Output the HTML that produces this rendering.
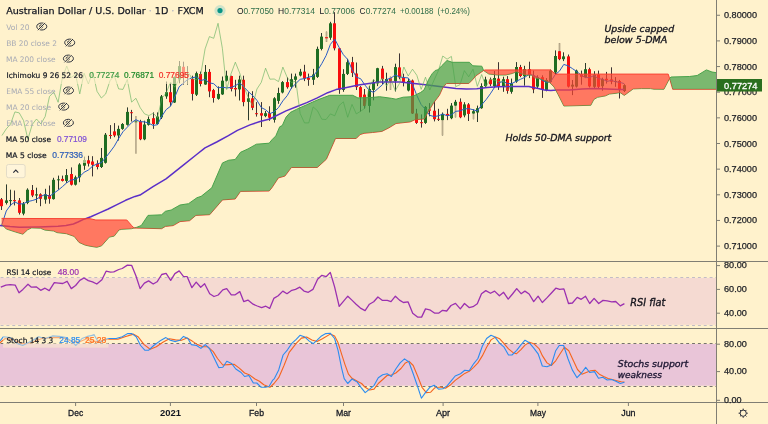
<!DOCTYPE html>
<html><head><meta charset="utf-8"><title>AUDUSD chart</title>
<style>html,body{margin:0;padding:0;background:#fff2cc;}svg{display:block;will-change:transform;}</style>
</head><body>
<svg width="768" height="424" viewBox="0 0 768 424">
<rect x="0" y="0" width="768" height="424" fill="#fff2cc"/>
<defs><clipPath id="cm"><rect x="0" y="0" width="716" height="261"/></clipPath><clipPath id="cr"><rect x="0" y="262" width="716" height="66"/></clipPath><clipPath id="cs"><rect x="0" y="329" width="716" height="73"/></clipPath></defs>
<g clip-path="url(#cm)">
<line x1="1.50" y1="198" x2="1.50" y2="210" stroke="#3d3434" stroke-width="1"/>
<rect x="0.00" y="199.3" width="3" height="6.90" fill="#f80d0d"/>
<line x1="6.50" y1="184.4" x2="6.50" y2="204.5" stroke="#2c3a2c" stroke-width="1"/>
<rect x="5.00" y="200.4" width="3" height="2.50" fill="#1f6d22"/>
<line x1="10.50" y1="189.7" x2="10.50" y2="206.2" stroke="#2c3a2c" stroke-width="1"/>
<rect x="9.00" y="200.1" width="3" height="1.00" fill="#1f6d22"/>
<line x1="14.50" y1="190.5" x2="14.50" y2="205.4" stroke="#3d3434" stroke-width="1"/>
<rect x="13.00" y="200.1" width="3" height="1.10" fill="#f80d0d"/>
<line x1="19.50" y1="198" x2="19.50" y2="214.5" stroke="#3d3434" stroke-width="1"/>
<rect x="18.00" y="200.4" width="3" height="12.40" fill="#f80d0d"/>
<line x1="23.50" y1="202" x2="23.50" y2="215.3" stroke="#2c3a2c" stroke-width="1"/>
<rect x="22.00" y="203.7" width="3" height="9.90" fill="#1f6d22"/>
<line x1="27.50" y1="188.3" x2="27.50" y2="204.2" stroke="#2c3a2c" stroke-width="1"/>
<rect x="26.00" y="189.7" width="3" height="13.20" fill="#1f6d22"/>
<line x1="32.50" y1="185" x2="32.50" y2="197.1" stroke="#3d3434" stroke-width="1"/>
<rect x="31.00" y="190" width="3" height="5.50" fill="#f80d0d"/>
<line x1="36.50" y1="187.7" x2="36.50" y2="202.9" stroke="#2c3a2c" stroke-width="1"/>
<rect x="35.00" y="194.3" width="3" height="1.20" fill="#1f6d22"/>
<line x1="40.50" y1="193.3" x2="40.50" y2="206.2" stroke="#3d3434" stroke-width="1"/>
<rect x="39.00" y="194.3" width="3" height="4.50" fill="#f80d0d"/>
<line x1="45.50" y1="188.8" x2="45.50" y2="203.7" stroke="#2c3a2c" stroke-width="1"/>
<rect x="44.00" y="194.3" width="3" height="5.30" fill="#1f6d22"/>
<line x1="49.50" y1="185.5" x2="49.50" y2="203.7" stroke="#3d3434" stroke-width="1"/>
<rect x="48.00" y="195" width="3" height="3.80" fill="#f80d0d"/>
<line x1="53.50" y1="177.8" x2="53.50" y2="199.6" stroke="#2c3a2c" stroke-width="1"/>
<rect x="52.00" y="179.8" width="3" height="19.30" fill="#1f6d22"/>
<line x1="58.50" y1="175.6" x2="58.50" y2="189.7" stroke="#2c3a2c" stroke-width="1"/>
<rect x="57.00" y="179.3" width="3" height="1.00" fill="#1f6d22"/>
<line x1="62.50" y1="175.6" x2="62.50" y2="181.5" stroke="#3d3434" stroke-width="1"/>
<rect x="61.00" y="178.9" width="3" height="2.00" fill="#f80d0d"/>
<line x1="66.50" y1="169" x2="66.50" y2="183" stroke="#2c3a2c" stroke-width="1"/>
<rect x="65.00" y="175.1" width="3" height="5.80" fill="#1f6d22"/>
<line x1="71.50" y1="167.4" x2="71.50" y2="185.5" stroke="#3d3434" stroke-width="1"/>
<rect x="70.00" y="174" width="3" height="10.70" fill="#f80d0d"/>
<line x1="75.50" y1="175.6" x2="75.50" y2="185.5" stroke="#2c3a2c" stroke-width="1"/>
<rect x="74.00" y="177.3" width="3" height="7.40" fill="#1f6d22"/>
<line x1="79.50" y1="163.2" x2="79.50" y2="182.2" stroke="#2c3a2c" stroke-width="1"/>
<rect x="78.00" y="164.5" width="3" height="12.80" fill="#1f6d22"/>
<line x1="84.50" y1="156.6" x2="84.50" y2="169.8" stroke="#2c3a2c" stroke-width="1"/>
<rect x="83.00" y="160" width="3" height="5.70" fill="#1f6d22"/>
<line x1="88.50" y1="155.8" x2="88.50" y2="166.5" stroke="#3d3434" stroke-width="1"/>
<rect x="87.00" y="160.3" width="3" height="3.30" fill="#f80d0d"/>
<line x1="92.50" y1="156.2" x2="92.50" y2="176.4" stroke="#3d3434" stroke-width="1"/>
<rect x="91.00" y="161.5" width="3" height="3.30" fill="#f80d0d"/>
<line x1="97.50" y1="160.3" x2="97.50" y2="169.4" stroke="#3d3434" stroke-width="1"/>
<rect x="96.00" y="163.6" width="3" height="3.40" fill="#f80d0d"/>
<line x1="101.50" y1="148" x2="101.50" y2="168" stroke="#2c3a2c" stroke-width="1"/>
<rect x="100.00" y="157.9" width="3" height="9.10" fill="#1f6d22"/>
<line x1="105.50" y1="133" x2="105.50" y2="163.6" stroke="#2c3a2c" stroke-width="1"/>
<rect x="104.00" y="134.7" width="3" height="28.10" fill="#1f6d22"/>
<line x1="110.50" y1="125.1" x2="110.50" y2="138.8" stroke="#3d3434" stroke-width="1"/>
<rect x="109.00" y="135" width="3" height="1.00" fill="#f80d0d"/>
<line x1="114.50" y1="123.1" x2="114.50" y2="137.2" stroke="#3d3434" stroke-width="1"/>
<rect x="113.00" y="131.4" width="3" height="4.10" fill="#f80d0d"/>
<line x1="118.50" y1="125.6" x2="118.50" y2="140.5" stroke="#2c3a2c" stroke-width="1"/>
<rect x="117.00" y="128.9" width="3" height="6.60" fill="#1f6d22"/>
<line x1="122.50" y1="123.1" x2="122.50" y2="129.8" stroke="#2c3a2c" stroke-width="1"/>
<rect x="121.00" y="124" width="3" height="4.90" fill="#1f6d22"/>
<line x1="127.50" y1="107.4" x2="127.50" y2="125.6" stroke="#2c3a2c" stroke-width="1"/>
<rect x="126.00" y="111.9" width="3" height="12.90" fill="#1f6d22"/>
<line x1="131.50" y1="109.9" x2="131.50" y2="121.5" stroke="#3d3434" stroke-width="1"/>
<rect x="130.00" y="112.2" width="3" height="1.00" fill="#f80d0d"/>
<line x1="135.93" y1="116" x2="135.93" y2="153.8" stroke="#b8ab8c" stroke-width="1.7"/>
<rect x="134.43" y="120.6" width="3" height="1.80" fill="#1f6d22" opacity="0.6"/>
<line x1="140.50" y1="119.8" x2="140.50" y2="140.2" stroke="#3d3434" stroke-width="1"/>
<rect x="139.00" y="121.5" width="3" height="17.80" fill="#f80d0d"/>
<line x1="144.50" y1="120.7" x2="144.50" y2="140.2" stroke="#2c3a2c" stroke-width="1"/>
<rect x="143.00" y="124.5" width="3" height="14.80" fill="#1f6d22"/>
<line x1="148.50" y1="116.5" x2="148.50" y2="125.6" stroke="#2c3a2c" stroke-width="1"/>
<rect x="147.00" y="119" width="3" height="5.80" fill="#1f6d22"/>
<line x1="153.50" y1="112.4" x2="153.50" y2="128.9" stroke="#3d3434" stroke-width="1"/>
<rect x="152.00" y="118.2" width="3" height="5.80" fill="#f80d0d"/>
<line x1="157.50" y1="112.4" x2="157.50" y2="124.8" stroke="#2c3a2c" stroke-width="1"/>
<rect x="156.00" y="116.5" width="3" height="7.50" fill="#1f6d22"/>
<line x1="161.50" y1="95" x2="161.50" y2="119" stroke="#2c3a2c" stroke-width="1"/>
<rect x="160.00" y="96.4" width="3" height="21.00" fill="#1f6d22"/>
<line x1="166.50" y1="81.5" x2="166.50" y2="98.8" stroke="#2c3a2c" stroke-width="1"/>
<rect x="165.00" y="92.2" width="3" height="4.20" fill="#1f6d22"/>
<line x1="170.50" y1="82.9" x2="170.50" y2="106.3" stroke="#3d3434" stroke-width="1"/>
<rect x="169.00" y="92.2" width="3" height="10.10" fill="#f80d0d"/>
<line x1="174.50" y1="76.5" x2="174.50" y2="103" stroke="#2c3a2c" stroke-width="1"/>
<rect x="173.00" y="77" width="3" height="25.50" fill="#1f6d22"/>
<line x1="179.50" y1="61" x2="179.50" y2="83.3" stroke="#2c3a2c" stroke-width="1"/>
<rect x="178.00" y="66.1" width="3" height="13.40" fill="#1f6d22"/>
<line x1="183.50" y1="61.7" x2="183.50" y2="84.6" stroke="#3d3434" stroke-width="1"/>
<rect x="182.00" y="66.8" width="3" height="10.80" fill="#f80d0d"/>
<line x1="187.50" y1="66.1" x2="187.50" y2="84.6" stroke="#2c3a2c" stroke-width="1"/>
<rect x="186.00" y="74" width="3" height="1.00" fill="#1f6d22"/>
<line x1="192.50" y1="75.7" x2="192.50" y2="100.5" stroke="#3d3434" stroke-width="1"/>
<rect x="191.00" y="79" width="3" height="14.90" fill="#f80d0d"/>
<line x1="196.50" y1="71.6" x2="196.50" y2="96" stroke="#2c3a2c" stroke-width="1"/>
<rect x="195.00" y="73.2" width="3" height="21.50" fill="#1f6d22"/>
<line x1="200.50" y1="71.6" x2="200.50" y2="86.4" stroke="#3d3434" stroke-width="1"/>
<rect x="199.00" y="74" width="3" height="10.00" fill="#f80d0d"/>
<line x1="205.50" y1="65" x2="205.50" y2="84.8" stroke="#2c3a2c" stroke-width="1"/>
<rect x="204.00" y="71.9" width="3" height="12.60" fill="#1f6d22"/>
<line x1="209.50" y1="69.1" x2="209.50" y2="97.2" stroke="#3d3434" stroke-width="1"/>
<rect x="208.00" y="71.9" width="3" height="19.50" fill="#f80d0d"/>
<line x1="213.50" y1="88.9" x2="213.50" y2="102.6" stroke="#3d3434" stroke-width="1"/>
<rect x="212.00" y="90.1" width="3" height="7.90" fill="#f80d0d"/>
<line x1="218.50" y1="86.4" x2="218.50" y2="99.7" stroke="#2c3a2c" stroke-width="1"/>
<rect x="217.00" y="93.9" width="3" height="4.90" fill="#1f6d22"/>
<line x1="222.50" y1="76.5" x2="222.50" y2="94.9" stroke="#2c3a2c" stroke-width="1"/>
<rect x="221.00" y="80.7" width="3" height="13.70" fill="#1f6d22"/>
<line x1="226.50" y1="70.7" x2="226.50" y2="81.5" stroke="#2c3a2c" stroke-width="1"/>
<rect x="225.00" y="75.7" width="3" height="5.00" fill="#1f6d22"/>
<line x1="231.50" y1="75.7" x2="231.50" y2="91.4" stroke="#3d3434" stroke-width="1"/>
<rect x="230.00" y="76" width="3" height="12.90" fill="#f80d0d"/>
<line x1="235.50" y1="79.8" x2="235.50" y2="96.4" stroke="#3d3434" stroke-width="1"/>
<rect x="234.00" y="88" width="3" height="1.40" fill="#f80d0d"/>
<line x1="239.50" y1="75.7" x2="239.50" y2="100.5" stroke="#2c3a2c" stroke-width="1"/>
<rect x="238.00" y="79.5" width="3" height="9.90" fill="#1f6d22"/>
<line x1="243.50" y1="75.7" x2="243.50" y2="106.3" stroke="#3d3434" stroke-width="1"/>
<rect x="242.00" y="79.8" width="3" height="22.30" fill="#f80d0d"/>
<line x1="248.50" y1="92.2" x2="248.50" y2="120.3" stroke="#2c3a2c" stroke-width="1"/>
<rect x="247.00" y="98.3" width="3" height="3.50" fill="#1f6d22"/>
<line x1="252.50" y1="91.2" x2="252.50" y2="110.1" stroke="#3d3434" stroke-width="1"/>
<rect x="251.00" y="98.3" width="3" height="9.50" fill="#f80d0d"/>
<line x1="256.50" y1="102.1" x2="256.50" y2="116.6" stroke="#3d3434" stroke-width="1"/>
<rect x="255.00" y="113.2" width="3" height="1.00" fill="#f80d0d"/>
<line x1="261.50" y1="102.1" x2="261.50" y2="127" stroke="#3d3434" stroke-width="1"/>
<rect x="260.00" y="113.2" width="3" height="2.40" fill="#f80d0d"/>
<line x1="265.50" y1="111" x2="265.50" y2="117.2" stroke="#2c3a2c" stroke-width="1"/>
<rect x="264.00" y="113.2" width="3" height="2.90" fill="#1f6d22"/>
<line x1="269.50" y1="106.3" x2="269.50" y2="120.8" stroke="#3d3434" stroke-width="1"/>
<rect x="268.00" y="113.2" width="3" height="4.50" fill="#f80d0d"/>
<line x1="274.50" y1="97.2" x2="274.50" y2="122.6" stroke="#2c3a2c" stroke-width="1"/>
<rect x="273.00" y="98.3" width="3" height="21.50" fill="#1f6d22"/>
<line x1="278.50" y1="87.7" x2="278.50" y2="103.8" stroke="#2c3a2c" stroke-width="1"/>
<rect x="277.00" y="93" width="3" height="7.90" fill="#1f6d22"/>
<line x1="282.50" y1="81.1" x2="282.50" y2="93.4" stroke="#2c3a2c" stroke-width="1"/>
<rect x="281.00" y="82.1" width="3" height="10.40" fill="#1f6d22"/>
<line x1="287.50" y1="77.4" x2="287.50" y2="88.7" stroke="#3d3434" stroke-width="1"/>
<rect x="286.00" y="82.1" width="3" height="5.10" fill="#f80d0d"/>
<line x1="291.50" y1="73.6" x2="291.50" y2="88.7" stroke="#2c3a2c" stroke-width="1"/>
<rect x="290.00" y="79.2" width="3" height="7.60" fill="#1f6d22"/>
<line x1="295.50" y1="73.6" x2="295.50" y2="87.7" stroke="#2c3a2c" stroke-width="1"/>
<rect x="294.00" y="76.4" width="3" height="3.40" fill="#1f6d22"/>
<line x1="300.50" y1="68.9" x2="300.50" y2="76.4" stroke="#2c3a2c" stroke-width="1"/>
<rect x="299.00" y="71.7" width="3" height="3.80" fill="#1f6d22"/>
<line x1="304.50" y1="64.8" x2="304.50" y2="81.1" stroke="#3d3434" stroke-width="1"/>
<rect x="303.00" y="71.6" width="3" height="7.00" fill="#f80d0d"/>
<line x1="308.50" y1="73.6" x2="308.50" y2="85.8" stroke="#3d3434" stroke-width="1"/>
<rect x="307.00" y="77.9" width="3" height="1.90" fill="#f80d0d"/>
<line x1="313.50" y1="68.9" x2="313.50" y2="84.9" stroke="#2c3a2c" stroke-width="1"/>
<rect x="312.00" y="74.5" width="3" height="5.30" fill="#1f6d22"/>
<line x1="317.50" y1="46.6" x2="317.50" y2="77.9" stroke="#2c3a2c" stroke-width="1"/>
<rect x="316.00" y="48.9" width="3" height="28.00" fill="#1f6d22"/>
<line x1="321.50" y1="33" x2="321.50" y2="50.4" stroke="#2c3a2c" stroke-width="1"/>
<rect x="320.00" y="36.6" width="3" height="12.30" fill="#1f6d22"/>
<line x1="326.50" y1="31.7" x2="326.50" y2="41.9" stroke="#3d3434" stroke-width="1"/>
<line x1="326.50" y1="31.7" x2="326.50" y2="41.9" stroke="#b8ab8c" stroke-width="1.8"/>
<rect x="325.00" y="37.2" width="3" height="1.10" fill="#f80d0d"/>
<line x1="330.50" y1="21.8" x2="330.50" y2="39.8" stroke="#2c3a2c" stroke-width="1"/>
<rect x="329.00" y="23.3" width="3" height="14.40" fill="#1f6d22"/>
<line x1="334.50" y1="12.2" x2="334.50" y2="50.4" stroke="#3d3434" stroke-width="1"/>
<rect x="333.00" y="23.3" width="3" height="25.00" fill="#f80d0d"/>
<line x1="339.50" y1="48" x2="339.50" y2="93.8" stroke="#3d3434" stroke-width="1"/>
<rect x="338.00" y="48.3" width="3" height="41.30" fill="#f80d0d"/>
<line x1="343.50" y1="69.2" x2="343.50" y2="91.8" stroke="#2c3a2c" stroke-width="1"/>
<rect x="342.00" y="73.9" width="3" height="16.00" fill="#1f6d22"/>
<line x1="347.50" y1="58.8" x2="347.50" y2="75" stroke="#2c3a2c" stroke-width="1"/>
<rect x="346.00" y="62.2" width="3" height="11.70" fill="#1f6d22"/>
<line x1="352.50" y1="56.9" x2="352.50" y2="77" stroke="#3d3434" stroke-width="1"/>
<rect x="351.00" y="62.2" width="3" height="10.70" fill="#f80d0d"/>
<line x1="356.50" y1="62.5" x2="356.50" y2="90" stroke="#3d3434" stroke-width="1"/>
<rect x="355.00" y="73.5" width="3" height="13.60" fill="#f80d0d"/>
<line x1="360.50" y1="86.1" x2="360.50" y2="111.6" stroke="#3d3434" stroke-width="1"/>
<rect x="359.00" y="87.1" width="3" height="10.40" fill="#f80d0d"/>
<line x1="364.50" y1="89" x2="364.50" y2="108.8" stroke="#3d3434" stroke-width="1"/>
<rect x="363.00" y="94.6" width="3" height="11.30" fill="#f80d0d"/>
<line x1="369.50" y1="86.1" x2="369.50" y2="112.5" stroke="#2c3a2c" stroke-width="1"/>
<rect x="368.00" y="89" width="3" height="16.90" fill="#1f6d22"/>
<line x1="373.50" y1="79.5" x2="373.50" y2="100.3" stroke="#2c3a2c" stroke-width="1"/>
<rect x="372.00" y="82.4" width="3" height="7.50" fill="#1f6d22"/>
<line x1="377.50" y1="67.8" x2="377.50" y2="86.1" stroke="#2c3a2c" stroke-width="1"/>
<rect x="376.00" y="68.2" width="3" height="15.10" fill="#1f6d22"/>
<line x1="382.50" y1="65.9" x2="382.50" y2="84.2" stroke="#3d3434" stroke-width="1"/>
<rect x="381.00" y="68.6" width="3" height="10.60" fill="#f80d0d"/>
<line x1="386.50" y1="72.7" x2="386.50" y2="90.7" stroke="#2c3a2c" stroke-width="1"/>
<rect x="385.00" y="79" width="3" height="2.50" fill="#1f6d22"/>
<line x1="390.50" y1="76.7" x2="390.50" y2="89.9" stroke="#3d3434" stroke-width="1"/>
<line x1="390.50" y1="76.7" x2="390.50" y2="89.9" stroke="#b8ab8c" stroke-width="1.8"/>
<rect x="389.00" y="78.4" width="3" height="3.20" fill="#f80d0d"/>
<line x1="395.50" y1="63.7" x2="395.50" y2="91.5" stroke="#2c3a2c" stroke-width="1"/>
<rect x="394.00" y="67.1" width="3" height="14.10" fill="#1f6d22"/>
<line x1="399.50" y1="53.4" x2="399.50" y2="79.3" stroke="#3d3434" stroke-width="1"/>
<rect x="398.00" y="67.4" width="3" height="10.00" fill="#f80d0d"/>
<line x1="403.50" y1="73.7" x2="403.50" y2="86.4" stroke="#3d3434" stroke-width="1"/>
<rect x="402.00" y="77.4" width="3" height="5.20" fill="#f80d0d"/>
<line x1="408.50" y1="79" x2="408.50" y2="91.4" stroke="#2c3a2c" stroke-width="1"/>
<rect x="407.00" y="81" width="3" height="9.50" fill="#1f6d22"/>
<line x1="412.50" y1="79.5" x2="412.50" y2="114" stroke="#3d3434" stroke-width="1"/>
<rect x="411.00" y="80.5" width="3" height="33.00" fill="#f80d0d"/>
<line x1="416.50" y1="108.8" x2="416.50" y2="123.9" stroke="#3d3434" stroke-width="1"/>
<rect x="415.00" y="113.5" width="3" height="9.40" fill="#f80d0d"/>
<line x1="421.50" y1="114.4" x2="421.50" y2="127.6" stroke="#3d3434" stroke-width="1"/>
<rect x="420.00" y="122.2" width="3" height="1.00" fill="#f80d0d"/>
<line x1="425.50" y1="106" x2="425.50" y2="123.9" stroke="#2c3a2c" stroke-width="1"/>
<rect x="424.00" y="106.9" width="3" height="16.00" fill="#1f6d22"/>
<line x1="429.50" y1="103.1" x2="429.50" y2="116.3" stroke="#3d3434" stroke-width="1"/>
<rect x="428.00" y="109.3" width="3" height="1.40" fill="#f80d0d"/>
<line x1="434.50" y1="101.2" x2="434.50" y2="121.4" stroke="#3d3434" stroke-width="1"/>
<rect x="433.00" y="110.7" width="3" height="8.50" fill="#f80d0d"/>
<line x1="438.50" y1="108.8" x2="438.50" y2="121" stroke="#3d3434" stroke-width="1"/>
<rect x="437.00" y="118.8" width="3" height="1.00" fill="#f80d0d"/>
<line x1="442.50" y1="112.5" x2="442.50" y2="135.4" stroke="#2c3a2c" stroke-width="1"/>
<line x1="442.50" y1="120.1" x2="442.50" y2="135.4" stroke="#b8ab8c" stroke-width="1.8"/>
<rect x="441.00" y="113.9" width="3" height="6.20" fill="#1f6d22"/>
<line x1="447.50" y1="108.8" x2="447.50" y2="120.1" stroke="#3d3434" stroke-width="1"/>
<rect x="446.00" y="113.9" width="3" height="1.90" fill="#f80d0d"/>
<line x1="451.50" y1="103.1" x2="451.50" y2="119.2" stroke="#2c3a2c" stroke-width="1"/>
<rect x="450.00" y="105.6" width="3" height="12.60" fill="#1f6d22"/>
<line x1="455.50" y1="99.9" x2="455.50" y2="117.3" stroke="#2c3a2c" stroke-width="1"/>
<line x1="455.50" y1="105.6" x2="455.50" y2="117.3" stroke="#b8ab8c" stroke-width="1.8"/>
<rect x="454.00" y="101.8" width="3" height="3.80" fill="#1f6d22"/>
<line x1="460.50" y1="98.4" x2="460.50" y2="118.2" stroke="#3d3434" stroke-width="1"/>
<rect x="459.00" y="101.8" width="3" height="15.50" fill="#f80d0d"/>
<line x1="464.50" y1="102.2" x2="464.50" y2="117.3" stroke="#2c3a2c" stroke-width="1"/>
<rect x="463.00" y="104.4" width="3" height="11.00" fill="#1f6d22"/>
<line x1="468.50" y1="103.1" x2="468.50" y2="121" stroke="#3d3434" stroke-width="1"/>
<rect x="467.00" y="104.4" width="3" height="9.50" fill="#f80d0d"/>
<line x1="473.50" y1="109.3" x2="473.50" y2="119.2" stroke="#2c3a2c" stroke-width="1"/>
<line x1="473.50" y1="113.5" x2="473.50" y2="119.2" stroke="#b8ab8c" stroke-width="1.8"/>
<rect x="472.00" y="111.2" width="3" height="2.30" fill="#1f6d22"/>
<line x1="477.50" y1="105.6" x2="477.50" y2="122" stroke="#2c3a2c" stroke-width="1"/>
<rect x="476.00" y="108.2" width="3" height="4.30" fill="#1f6d22"/>
<line x1="481.50" y1="83.3" x2="481.50" y2="108.8" stroke="#2c3a2c" stroke-width="1"/>
<rect x="480.00" y="86.1" width="3" height="22.10" fill="#1f6d22"/>
<line x1="485.50" y1="76.7" x2="485.50" y2="87.1" stroke="#2c3a2c" stroke-width="1"/>
<rect x="484.00" y="79.5" width="3" height="6.60" fill="#1f6d22"/>
<line x1="490.50" y1="77.6" x2="490.50" y2="86.1" stroke="#3d3434" stroke-width="1"/>
<rect x="489.00" y="79.5" width="3" height="4.70" fill="#f80d0d"/>
<line x1="494.50" y1="71" x2="494.50" y2="88" stroke="#2c3a2c" stroke-width="1"/>
<rect x="493.00" y="78" width="3" height="8.10" fill="#1f6d22"/>
<line x1="498.50" y1="62.2" x2="498.50" y2="89.9" stroke="#3d3434" stroke-width="1"/>
<rect x="497.00" y="78.6" width="3" height="7.50" fill="#f80d0d"/>
<line x1="503.50" y1="76.7" x2="503.50" y2="91.8" stroke="#2c3a2c" stroke-width="1"/>
<rect x="502.00" y="79.2" width="3" height="7.90" fill="#1f6d22"/>
<line x1="507.50" y1="76.1" x2="507.50" y2="93.7" stroke="#3d3434" stroke-width="1"/>
<rect x="506.00" y="79.2" width="3" height="11.60" fill="#f80d0d"/>
<line x1="511.50" y1="78.6" x2="511.50" y2="93.7" stroke="#2c3a2c" stroke-width="1"/>
<rect x="510.00" y="83.3" width="3" height="8.50" fill="#1f6d22"/>
<line x1="516.50" y1="62.1" x2="516.50" y2="82.8" stroke="#2c3a2c" stroke-width="1"/>
<rect x="515.00" y="67" width="3" height="14.60" fill="#1f6d22"/>
<line x1="520.50" y1="64.9" x2="520.50" y2="77.2" stroke="#3d3434" stroke-width="1"/>
<rect x="519.00" y="67" width="3" height="9.00" fill="#f80d0d"/>
<line x1="524.50" y1="65.8" x2="524.50" y2="85.7" stroke="#2c3a2c" stroke-width="1"/>
<rect x="523.00" y="69.2" width="3" height="7.00" fill="#1f6d22"/>
<line x1="529.50" y1="61.7" x2="529.50" y2="78.1" stroke="#3d3434" stroke-width="1"/>
<rect x="528.00" y="69.2" width="3" height="6.10" fill="#f80d0d"/>
<line x1="533.50" y1="70.6" x2="533.50" y2="93.2" stroke="#3d3434" stroke-width="1"/>
<rect x="532.00" y="75.3" width="3" height="14.10" fill="#f80d0d"/>
<line x1="537.50" y1="75.3" x2="537.50" y2="88.5" stroke="#2c3a2c" stroke-width="1"/>
<rect x="536.00" y="77.2" width="3" height="9.40" fill="#1f6d22"/>
<line x1="542.50" y1="75.3" x2="542.50" y2="97.9" stroke="#3d3434" stroke-width="1"/>
<rect x="541.00" y="77.2" width="3" height="12.80" fill="#f80d0d"/>
<line x1="546.50" y1="78.1" x2="546.50" y2="91.3" stroke="#2c3a2c" stroke-width="1"/>
<rect x="545.00" y="80" width="3" height="10.40" fill="#1f6d22"/>
<line x1="550.50" y1="69.6" x2="550.50" y2="82.8" stroke="#2c3a2c" stroke-width="1"/>
<rect x="549.00" y="70.6" width="3" height="11.30" fill="#1f6d22"/>
<line x1="555.50" y1="50.4" x2="555.50" y2="74.3" stroke="#2c3a2c" stroke-width="1"/>
<rect x="554.00" y="56" width="3" height="16.50" fill="#1f6d22"/>
<line x1="559.50" y1="43.1" x2="559.50" y2="60.2" stroke="#3d3434" stroke-width="1"/>
<line x1="559.50" y1="43.1" x2="559.50" y2="51.2" stroke="#b8ab8c" stroke-width="1.8"/>
<rect x="558.00" y="51.2" width="3" height="8.00" fill="#f80d0d"/>
<line x1="563.50" y1="52.3" x2="563.50" y2="61.1" stroke="#2c3a2c" stroke-width="1"/>
<rect x="562.00" y="56.4" width="3" height="2.80" fill="#1f6d22"/>
<line x1="568.50" y1="54.5" x2="568.50" y2="87.5" stroke="#3d3434" stroke-width="1"/>
<rect x="567.00" y="56.4" width="3" height="30.20" fill="#f80d0d"/>
<line x1="572.50" y1="80" x2="572.50" y2="95.1" stroke="#2c3a2c" stroke-width="1"/>
<rect x="571.00" y="84.7" width="3" height="1.90" fill="#1f6d22"/>
<line x1="576.50" y1="69.6" x2="576.50" y2="87.5" stroke="#2c3a2c" stroke-width="1"/>
<rect x="575.00" y="70.6" width="3" height="16.00" fill="#1f6d22"/>
<line x1="581.50" y1="70.6" x2="581.50" y2="84.7" stroke="#3d3434" stroke-width="1"/>
<rect x="580.00" y="74.3" width="3" height="2.50" fill="#f80d0d"/>
<line x1="585.50" y1="63" x2="585.50" y2="78.1" stroke="#2c3a2c" stroke-width="1"/>
<rect x="584.00" y="69.2" width="3" height="8.00" fill="#1f6d22"/>
<line x1="589.50" y1="67.7" x2="589.50" y2="87.5" stroke="#3d3434" stroke-width="1"/>
<rect x="588.00" y="69.2" width="3" height="17.20" fill="#f80d0d"/>
<line x1="594.50" y1="71.2" x2="594.50" y2="88.1" stroke="#2c3a2c" stroke-width="1"/>
<rect x="593.00" y="74.5" width="3" height="12.30" fill="#1f6d22"/>
<line x1="598.50" y1="70.6" x2="598.50" y2="88.1" stroke="#3d3434" stroke-width="1"/>
<rect x="597.00" y="74.5" width="3" height="12.30" fill="#f80d0d"/>
<line x1="602.50" y1="77.7" x2="602.50" y2="90.7" stroke="#2c3a2c" stroke-width="1"/>
<rect x="601.00" y="79" width="3" height="7.20" fill="#1f6d22"/>
<line x1="606.50" y1="71.9" x2="606.50" y2="83.6" stroke="#3d3434" stroke-width="1"/>
<rect x="605.00" y="78.8" width="3" height="1.50" fill="#f80d0d"/>
<line x1="611.50" y1="67.3" x2="611.50" y2="84.2" stroke="#3d3434" stroke-width="1"/>
<rect x="610.00" y="79.4" width="3" height="2.20" fill="#f80d0d"/>
<line x1="615.50" y1="77.1" x2="615.50" y2="86.8" stroke="#2c3a2c" stroke-width="1"/>
<rect x="614.00" y="81" width="3" height="1.00" fill="#1f6d22"/>
<line x1="619.50" y1="79.9" x2="619.50" y2="98.5" stroke="#3d3434" stroke-width="1"/>
<rect x="618.00" y="81" width="3" height="9.10" fill="#f80d0d"/>
<line x1="624.50" y1="84.2" x2="624.50" y2="92" stroke="#2c3a2c" stroke-width="1"/>
<rect x="623.00" y="85.2" width="3" height="5.80" fill="#1f6d22"/>
<polyline points="1.96,224.40 6.28,210.98 10.60,205.00 14.92,201.98 19.25,204.14 23.57,203.64 27.89,201.50 32.21,200.58 36.53,199.20 40.85,196.40 45.18,194.52 49.50,196.34 53.82,193.20 58.14,190.20 62.46,186.62 66.78,182.78 71.11,179.96 75.43,179.46 79.75,176.50 84.07,172.32 88.39,170.02 92.71,166.04 97.04,163.98 101.36,162.66 105.68,157.60 110.00,152.02 114.32,146.16 118.64,138.54 122.96,131.76 127.29,127.20 131.61,122.64 135.93,119.66 140.25,121.74 144.57,121.84 148.89,123.26 153.22,125.48 157.54,124.66 161.86,116.08 166.18,109.62 170.50,106.28 174.82,96.88 179.15,86.80 183.47,83.04 187.79,79.40 192.11,77.72 196.43,76.96 200.75,80.54 205.08,79.40 209.40,82.88 213.72,83.70 218.04,87.84 222.36,87.18 226.68,87.94 231.00,87.44 235.33,85.72 239.65,82.84 243.97,87.12 248.29,91.64 252.61,95.42 256.93,100.32 261.26,107.54 265.58,109.76 269.90,113.64 274.22,111.74 278.54,107.56 282.86,100.86 287.19,95.66 291.51,87.96 295.83,83.58 300.15,79.32 304.47,78.62 308.79,77.14 313.12,76.20 317.44,70.70 321.76,63.68 326.08,55.62 330.40,44.32 334.72,39.08 339.04,47.22 343.37,54.68 347.69,59.46 352.01,69.38 356.33,77.14 360.65,78.72 364.97,85.12 369.30,90.48 373.62,92.38 377.94,88.60 382.26,84.94 386.58,79.56 390.90,78.08 395.23,75.02 399.55,76.86 403.87,77.54 408.19,77.94 412.51,84.32 416.83,95.48 421.16,104.58 425.48,109.44 429.80,115.38 434.12,116.52 438.44,115.84 442.76,114.04 447.08,115.82 451.41,114.80 455.73,111.32 460.05,110.88 464.37,108.98 468.69,108.60 473.01,109.72 477.34,111.00 481.66,104.76 485.98,99.78 490.30,93.84 494.62,87.20 498.94,82.78 503.27,81.40 507.59,83.66 511.91,83.48 516.23,81.28 520.55,79.26 524.87,77.26 529.20,74.16 533.52,75.38 537.84,77.42 542.16,80.22 546.48,82.38 550.80,81.44 555.12,74.76 559.45,71.16 563.77,64.44 568.09,65.76 572.41,68.58 576.73,71.50 581.05,75.02 585.38,77.58 589.70,77.54 594.02,75.50 598.34,78.74 602.66,79.18 606.98,81.40 611.31,80.44 615.63,81.74 619.95,82.40 624.27,83.64" fill="none" stroke="#2a5cc4" stroke-width="1.0" stroke-linejoin="round"/>
<polyline points="0.00,225.40 10.00,226.60 19.30,227.30 38.60,226.90 58.00,226.30 66.00,225.60 73.40,224.00 78.00,222.00 83.00,219.60 90.80,216.70 99.50,212.90 108.20,209.00 117.00,204.60 125.60,200.30 135.00,196.40 140.00,195.10 153.00,186.70 166.00,178.90 172.00,174.20 183.00,165.40 196.00,155.00 205.00,147.90 216.70,142.00 228.40,135.60 237.40,130.40 250.00,124.90 260.00,121.50 269.70,119.00 286.00,110.90 296.40,106.75 306.80,102.60 317.30,97.90 327.70,92.70 336.00,89.60 344.30,88.00 358.50,85.00 379.30,82.10 400.20,81.90 421.00,84.20 441.80,86.70 456.00,88.40 466.40,89.00 476.80,88.70 487.25,87.50 497.70,86.70 508.10,86.40 518.50,86.40 528.90,86.50 532.00,87.20 538.25,88.60 544.50,89.90 550.75,90.50 557.00,90.10 569.50,89.90 582.00,89.00 594.50,88.60 607.00,89.00 619.50,89.50 624.50,89.50" fill="none" stroke="#5a2fc8" stroke-width="1.5" stroke-linejoin="round"/>
<polyline points="1.96,135.50 6.28,128.90 10.60,124.00 14.92,111.90 19.25,112.90 23.57,120.60 27.89,139.30 32.21,124.50 36.53,119.00 40.85,124.00 45.18,116.50 49.50,96.40 53.82,92.20 58.14,102.30 62.46,77.00 66.78,66.10 71.11,77.60 75.43,74.00 79.75,93.90 84.07,73.20 88.39,84.00 92.71,71.90 97.04,91.40 101.36,98.00 105.68,93.90 110.00,80.70 114.32,75.70 118.64,88.90 122.96,89.40 127.29,79.50 131.61,102.10 135.93,98.30 140.25,107.80 144.57,113.90 148.89,115.60 153.22,113.20 157.54,117.70 161.86,98.30 166.18,93.00 170.50,82.10 174.82,87.20 179.15,79.20 183.47,76.40 187.79,71.70 192.11,78.60 196.43,79.80 200.75,74.50 205.08,48.90 209.40,36.60 213.72,38.30 218.04,23.30 222.36,48.30 226.68,89.60 231.00,73.90 235.33,62.20 239.65,72.90 243.97,87.10 248.29,97.50 252.61,105.90 256.93,89.00 261.26,82.40 265.58,68.20 269.90,79.20 274.22,79.00 278.54,81.60 282.86,67.10 287.19,77.40 291.51,82.60 295.83,81.00 300.15,113.50 304.47,122.90 308.79,122.90 313.12,106.90 317.44,110.70 321.76,119.20 326.08,119.50 330.40,113.90 334.72,115.80 339.04,105.60 343.37,101.80 347.69,117.30 352.01,104.40 356.33,113.90 360.65,111.20 364.97,108.20 369.30,86.10 373.62,79.50 377.94,84.20 382.26,78.00 386.58,86.10 390.90,79.20 395.23,90.80 399.55,83.30 403.87,67.00 408.19,76.00 412.51,69.20 416.83,75.30 421.16,89.40 425.48,77.20 429.80,90.00 434.12,80.00 438.44,70.60 442.76,56.00 447.08,59.20 451.41,56.40 455.73,86.60 460.05,84.70 464.37,70.60 468.69,76.80 473.01,69.20 477.34,86.40 481.66,74.50 485.98,86.80 490.30,79.00 494.62,80.30 498.94,81.60 503.27,81.00 507.59,90.10 511.91,85.20" fill="none" stroke="#5fae5a" stroke-width="0.9" opacity="0.68" stroke-linejoin="round"/>
<polyline points="1.60,224.20 6.30,229.00 15.80,232.10 22.90,234.20 27.60,229.80 31.60,227.90 40.30,228.20 45.00,230.10 53.70,231.00 56.90,232.60 66.40,233.70 74.20,236.40 79.00,242.40 85.30,245.20 90.00,246.20 96.80,247.30 101.60,245.80 109.30,237.10 114.20,236.10 119.00,229.90 121.90,229.30 131.60,228.70 134.10,228.00" fill="none" stroke="#43a047" stroke-width="1" opacity="0.95"/>
<polyline points="134.10,228.00 136.40,227.40 141.30,225.50 148.00,215.40 161.60,214.80 165.40,211.30 171.20,210.00 180.00,205.00 188.50,203.70 197.00,197.70 201.20,196.30 211.80,187.80 215.00,180.30 222.50,162.90 228.80,160.20 235.20,159.50 240.50,152.30 248.00,148.90 256.40,144.20 269.20,143.20 271.90,139.80 275.80,135.90 279.70,126.80 282.30,125.50 286.00,117.20 290.20,112.50 296.40,109.40 306.80,104.70 317.30,100.00 329.75,95.30 352.70,95.30 357.90,97.90 370.20,97.60 379.60,96.70 391.40,98.30 396.00,99.20 403.20,97.20 410.20,96.80 414.90,95.30 420.50,92.50 424.00,90.00 428.70,79.40 432.30,73.50 435.20,70.50 438.20,69.70 441.70,65.80 447.00,60.50 452.30,62.30 469.40,62.30 472.90,65.80 481.80,66.20 483.60,70.50" fill="none" stroke="#43a047" stroke-width="1" opacity="0.95"/>
<polyline points="483.60,70.50 488.80,74.00 497.30,75.00 505.80,75.00 512.20,73.50 516.40,71.80 524.90,75.00 531.30,75.00 534.20,77.70 541.20,79.10 549.70,82.60 554.00,86.90 558.20,94.70 563.90,106.00 590.80,105.30 593.80,99.50 597.50,97.30 605.30,95.90 609.50,94.00 616.00,93.30 620.00,92.50 624.30,95.40 633.20,88.90 641.20,88.60 650.50,88.60 654.00,89.20 663.90,89.30 669.60,78.40" fill="none" stroke="#43a047" stroke-width="1" opacity="0.95"/>
<polyline points="669.60,78.40 671.00,77.00 689.40,76.50 697.20,75.50 706.40,69.90 712.00,72.00 717.00,72.80" fill="none" stroke="#43a047" stroke-width="1" opacity="0.95"/>
<polyline points="1.60,218.40 90.00,218.70 95.80,220.00 126.80,220.00 131.60,225.50 134.10,228.00" fill="none" stroke="#f2392b" stroke-width="1" opacity="0.95"/>
<polyline points="134.10,228.00 161.60,228.70 165.40,226.40 173.20,225.60 180.00,221.60 189.60,220.70 195.90,215.40 209.70,214.70 222.50,199.90 235.20,199.00 240.50,191.40 269.20,191.00 271.90,187.80 278.40,177.90 284.90,176.10 291.40,167.50 317.30,167.50 326.40,159.20 335.50,138.50 356.20,138.50 360.10,134.60 364.00,133.30 372.50,132.50 381.90,131.40 389.00,127.80 396.00,123.50 410.20,121.90 414.90,119.80 424.30,118.90 429.00,110.40 433.70,102.80 439.40,95.30 442.90,87.60 446.40,83.50 468.80,83.50 472.30,80.00 475.90,75.80 483.60,70.50" fill="none" stroke="#f2392b" stroke-width="1" opacity="0.95"/>
<polyline points="483.60,70.50 485.00,70.00 520.00,69.90 550.50,69.90 555.40,74.10 668.20,74.10 669.60,78.40" fill="none" stroke="#f2392b" stroke-width="1" opacity="0.95"/>
<polyline points="669.60,78.40 672.70,89.30 717.00,89.30" fill="none" stroke="#f2392b" stroke-width="1" opacity="0.95"/>
<polygon points="1.60,218.40 90.00,218.70 95.80,220.00 126.80,220.00 131.60,225.50 134.10,228.00 134.10,228.00 131.60,228.70 121.90,229.30 119.00,229.90 114.20,236.10 109.30,237.10 101.60,245.80 96.80,247.30 90.00,246.20 85.30,245.20 79.00,242.40 74.20,236.40 66.40,233.70 56.90,232.60 53.70,231.00 45.00,230.10 40.30,228.20 31.60,227.90 27.60,229.80 22.90,234.20 15.80,232.10 6.30,229.00 1.60,224.20" fill="#ff4433" fill-opacity="0.7"/>
<polygon points="134.10,228.00 136.40,227.40 141.30,225.50 148.00,215.40 161.60,214.80 165.40,211.30 171.20,210.00 180.00,205.00 188.50,203.70 197.00,197.70 201.20,196.30 211.80,187.80 215.00,180.30 222.50,162.90 228.80,160.20 235.20,159.50 240.50,152.30 248.00,148.90 256.40,144.20 269.20,143.20 271.90,139.80 275.80,135.90 279.70,126.80 282.30,125.50 286.00,117.20 290.20,112.50 296.40,109.40 306.80,104.70 317.30,100.00 329.75,95.30 352.70,95.30 357.90,97.90 370.20,97.60 379.60,96.70 391.40,98.30 396.00,99.20 403.20,97.20 410.20,96.80 414.90,95.30 420.50,92.50 424.00,90.00 428.70,79.40 432.30,73.50 435.20,70.50 438.20,69.70 441.70,65.80 447.00,60.50 452.30,62.30 469.40,62.30 472.90,65.80 481.80,66.20 483.60,70.50 483.60,70.50 475.90,75.80 472.30,80.00 468.80,83.50 446.40,83.50 442.90,87.60 439.40,95.30 433.70,102.80 429.00,110.40 424.30,118.90 414.90,119.80 410.20,121.90 396.00,123.50 389.00,127.80 381.90,131.40 372.50,132.50 364.00,133.30 360.10,134.60 356.20,138.50 335.50,138.50 326.40,159.20 317.30,167.50 291.40,167.50 284.90,176.10 278.40,177.90 271.90,187.80 269.20,191.00 240.50,191.40 235.20,199.00 222.50,199.90 209.70,214.70 195.90,215.40 189.60,220.70 180.00,221.60 173.20,225.60 165.40,226.40 161.60,228.70 134.10,228.00" fill="#43a047" fill-opacity="0.7"/>
<polygon points="483.60,70.50 485.00,70.00 520.00,69.90 550.50,69.90 555.40,74.10 668.20,74.10 669.60,78.40 669.60,78.40 663.90,89.30 654.00,89.20 650.50,88.60 641.20,88.60 633.20,88.90 624.30,95.40 620.00,92.50 616.00,93.30 609.50,94.00 605.30,95.90 597.50,97.30 593.80,99.50 590.80,105.30 563.90,106.00 558.20,94.70 554.00,86.90 549.70,82.60 541.20,79.10 534.20,77.70 531.30,75.00 524.90,75.00 516.40,71.80 512.20,73.50 505.80,75.00 497.30,75.00 488.80,74.00 483.60,70.50" fill="#ff4433" fill-opacity="0.7"/>
<polygon points="669.60,78.40 671.00,77.00 689.40,76.50 697.20,75.50 706.40,69.90 712.00,72.00 717.00,72.80 717.00,89.30 672.70,89.30 669.60,78.40" fill="#43a047" fill-opacity="0.7"/>
</g>
<rect x="0" y="60" width="190" height="24" fill="#fff2cc" opacity="0.6"/>
<rect x="0" y="148" width="87" height="15" fill="#fff2cc" opacity="0.6"/>
<text x="6.25" y="14" font-family="'DejaVu Sans', sans-serif" font-size="9.0" fill="#131722" stroke="#131722" stroke-width="0.25" textLength="197.5" lengthAdjust="spacingAndGlyphs">Australian Dollar / U.S. Dollar <tspan fill="#b6b9c2" stroke="#b6b9c2">·</tspan> 1D <tspan fill="#b6b9c2" stroke="#b6b9c2">·</tspan> FXCM</text>
<circle cx="220" cy="10.6" r="5.6" fill="#cfe3c9"/>
<circle cx="220" cy="10.6" r="2.6" fill="#089486"/>
<text x="236.9" y="14" font-family="'Liberation Sans', sans-serif" font-size="8.8" fill="#2f6d48" textLength="36.9" lengthAdjust="spacingAndGlyphs"><tspan fill="#131722">O</tspan>0.77050</text>
<text x="278.1" y="14" font-family="'Liberation Sans', sans-serif" font-size="8.8" fill="#2f6d48" textLength="36.9" lengthAdjust="spacingAndGlyphs"><tspan fill="#131722">H</tspan>0.77314</text>
<text x="319.4" y="14" font-family="'Liberation Sans', sans-serif" font-size="8.8" fill="#2f6d48" textLength="35.5" lengthAdjust="spacingAndGlyphs"><tspan fill="#131722">L</tspan>0.77006</text>
<text x="359.6" y="14" font-family="'Liberation Sans', sans-serif" font-size="8.8" fill="#2f6d48" textLength="36.3" lengthAdjust="spacingAndGlyphs"><tspan fill="#131722">C</tspan>0.77274</text>
<text x="400" y="14" font-family="'Liberation Sans', sans-serif" font-size="8.8" fill="#2f6d48" font-weight="normal" font-style="normal" text-anchor="start" textLength="33.50" lengthAdjust="spacingAndGlyphs">+0.00188</text>
<text x="437.5" y="14" font-family="'Liberation Sans', sans-serif" font-size="8.8" fill="#2f6d48" font-weight="normal" font-style="normal" text-anchor="start" textLength="32.50" lengthAdjust="spacingAndGlyphs">(+0.24%)</text>
<text x="6.25" y="29.5" font-family="'DejaVu Sans', sans-serif" font-size="7.6" fill="#a7aab4" font-weight="normal" font-style="normal" text-anchor="start" textLength="23.25" lengthAdjust="spacingAndGlyphs">Vol 20</text>
<g fill="none" stroke="#2a2e39" stroke-width="1"><ellipse cx="41.75" cy="26.5" rx="5.0" ry="3.5"/><circle cx="41.15" cy="26.5" r="1.6"/><line x1="37.85" y1="30.2" x2="45.05" y2="22.9" stroke="#fff2cc" stroke-width="2.2"/><line x1="37.85" y1="30.2" x2="45.05" y2="22.9"/></g>
<text x="6.25" y="45.5" font-family="'DejaVu Sans', sans-serif" font-size="7.6" fill="#a7aab4" font-weight="normal" font-style="normal" text-anchor="start" textLength="50.75" lengthAdjust="spacingAndGlyphs">BB 20 close 2</text>
<g fill="none" stroke="#2a2e39" stroke-width="1"><ellipse cx="69.7" cy="42.6" rx="5.0" ry="3.5"/><circle cx="69.10000000000001" cy="42.6" r="1.6"/><line x1="65.8" y1="46.300000000000004" x2="73.0" y2="39.0" stroke="#fff2cc" stroke-width="2.2"/><line x1="65.8" y1="46.300000000000004" x2="73.0" y2="39.0"/></g>
<text x="6.0" y="61.75" font-family="'DejaVu Sans', sans-serif" font-size="7.6" fill="#a7aab4" font-weight="normal" font-style="normal" text-anchor="start" textLength="49.60" lengthAdjust="spacingAndGlyphs">MA 200 close</text>
<g fill="none" stroke="#2a2e39" stroke-width="1"><ellipse cx="68.4" cy="58.6" rx="5.0" ry="3.5"/><circle cx="67.80000000000001" cy="58.6" r="1.6"/><line x1="64.5" y1="62.300000000000004" x2="71.7" y2="55.0" stroke="#fff2cc" stroke-width="2.2"/><line x1="64.5" y1="62.300000000000004" x2="71.7" y2="55.0"/></g>
<text x="6.25" y="93.6" font-family="'DejaVu Sans', sans-serif" font-size="7.6" fill="#a7aab4" font-weight="normal" font-style="normal" text-anchor="start" textLength="49.35" lengthAdjust="spacingAndGlyphs">EMA 55 close</text>
<g fill="none" stroke="#2a2e39" stroke-width="1"><ellipse cx="68.5" cy="90.5" rx="5.0" ry="3.5"/><circle cx="67.9" cy="90.5" r="1.6"/><line x1="64.6" y1="94.2" x2="71.8" y2="86.9" stroke="#fff2cc" stroke-width="2.2"/><line x1="64.6" y1="94.2" x2="71.8" y2="86.9"/></g>
<text x="6.0" y="109.6" font-family="'DejaVu Sans', sans-serif" font-size="7.6" fill="#a7aab4" font-weight="normal" font-style="normal" text-anchor="start" textLength="45.00" lengthAdjust="spacingAndGlyphs">MA 20 close</text>
<g fill="none" stroke="#2a2e39" stroke-width="1"><ellipse cx="63.7" cy="106.6" rx="5.0" ry="3.5"/><circle cx="63.1" cy="106.6" r="1.6"/><line x1="59.800000000000004" y1="110.3" x2="67.0" y2="103.0" stroke="#fff2cc" stroke-width="2.2"/><line x1="59.800000000000004" y1="110.3" x2="67.0" y2="103.0"/></g>
<text x="6.25" y="125.75" font-family="'DejaVu Sans', sans-serif" font-size="7.6" fill="#a7aab4" font-weight="normal" font-style="normal" text-anchor="start" textLength="49.35" lengthAdjust="spacingAndGlyphs">EMA 21 close</text>
<g fill="none" stroke="#2a2e39" stroke-width="1"><ellipse cx="68.4" cy="122.8" rx="5.0" ry="3.5"/><circle cx="67.80000000000001" cy="122.8" r="1.6"/><line x1="64.5" y1="126.5" x2="71.7" y2="119.2" stroke="#fff2cc" stroke-width="2.2"/><line x1="64.5" y1="126.5" x2="71.7" y2="119.2"/></g>
<text x="6.5" y="77.5" font-family="'DejaVu Sans', sans-serif" font-size="7.6" fill="#131722" font-weight="normal" font-style="normal" text-anchor="start" textLength="76.50" lengthAdjust="spacingAndGlyphs" stroke="#131722" stroke-width="0.2">Ichimoku 9 26 52 26</text>
<text x="89.3" y="77.5" font-family="'Liberation Sans', sans-serif" font-size="8.3" fill="#3d9a45" font-weight="normal" font-style="normal" text-anchor="start" textLength="30.00" lengthAdjust="spacingAndGlyphs" stroke="#3d9a45" stroke-width="0.2">0.77274</text>
<text x="124.0" y="77.5" font-family="'Liberation Sans', sans-serif" font-size="8.3" fill="#1f8a2a" font-weight="normal" font-style="normal" text-anchor="start" textLength="30.00" lengthAdjust="spacingAndGlyphs" stroke="#1f8a2a" stroke-width="0.2">0.76871</text>
<text x="158.7" y="77.5" font-family="'Liberation Sans', sans-serif" font-size="8.3" fill="#f2302a" font-weight="normal" font-style="normal" text-anchor="start" textLength="30.30" lengthAdjust="spacingAndGlyphs" stroke="#f2302a" stroke-width="0.2">0.77695</text>
<text x="5.8" y="141.8" font-family="'DejaVu Sans', sans-serif" font-size="7.6" fill="#131722" font-weight="normal" font-style="normal" text-anchor="start" textLength="45.20" lengthAdjust="spacingAndGlyphs" stroke="#131722" stroke-width="0.2">MA 50 close</text>
<text x="56.9" y="141.8" font-family="'Liberation Sans', sans-serif" font-size="8.3" fill="#7e4fd6" font-weight="normal" font-style="normal" text-anchor="start" textLength="30.00" lengthAdjust="spacingAndGlyphs" stroke="#7e4fd6" stroke-width="0.2">0.77109</text>
<text x="5.8" y="157.5" font-family="'DejaVu Sans', sans-serif" font-size="7.6" fill="#131722" font-weight="normal" font-style="normal" text-anchor="start" textLength="40.90" lengthAdjust="spacingAndGlyphs" stroke="#131722" stroke-width="0.2">MA 5 close</text>
<text x="52.3" y="157.5" font-family="'Liberation Sans', sans-serif" font-size="8.3" fill="#2a5cb8" font-weight="normal" font-style="normal" text-anchor="start" textLength="30.80" lengthAdjust="spacingAndGlyphs" stroke="#2a5cb8" stroke-width="0.2">0.77336</text>
<rect x="6.5" y="164.5" width="18.6" height="13.2" rx="2" fill="#fff5da" stroke="#dcd6c4" stroke-width="0.8"/>
<path d="M13.3,172.6 L15.8,170.1 L18.3,172.6" fill="none" stroke="#2a2e39" stroke-width="1.1"/>
<rect x="0" y="278" width="716" height="46.8" fill="#f5dad2"/>
<g stroke="#c2bcc6" stroke-width="1" stroke-dasharray="2.93,2.93" stroke-dashoffset="-0.57"><line x1="0" y1="277.5" x2="716" y2="277.5"/><line x1="0" y1="325.5" x2="716" y2="325.5"/></g>
<g clip-path="url(#cr)"><polyline points="0.80,287.20 5.90,285.20 10.20,284.70 15.30,285.20 19.00,292.80 22.90,289.40 28.00,284.30 31.40,287.20 36.50,286.90 40.70,290.30 45.00,288.20 49.20,290.60 54.30,282.60 58.60,283.10 62.80,283.50 67.10,281.30 71.30,288.60 75.60,285.50 79.80,280.40 84.00,278.00 88.30,280.60 92.50,281.80 96.80,284.00 101.90,279.70 106.10,271.20 110.40,272.10 113.80,271.90 118.80,269.50 122.20,268.50 127.40,265.10 131.60,265.30 135.90,275.80 140.10,288.60 144.40,283.10 148.60,280.90 153.20,284.00 157.10,281.80 161.70,274.50 166.10,273.30 170.70,280.40 174.90,273.60 179.20,270.90 183.40,276.30 187.20,276.70 191.90,287.70 196.20,282.10 200.70,287.20 204.60,283.80 209.70,293.70 214.00,296.50 218.20,295.00 222.80,289.90 226.70,288.60 231.30,294.80 235.20,294.80 239.80,291.60 243.70,301.60 247.90,300.10 253.10,304.20 257.30,306.00 261.60,307.60 265.80,306.20 269.70,308.40 273.80,298.40 278.20,295.70 282.80,291.10 287.00,293.70 291.80,290.30 295.50,289.40 299.80,287.20 304.00,291.10 308.30,292.30 312.90,289.40 317.60,279.20 321.90,275.30 326.10,276.70 330.30,272.40 334.60,286.90 339.20,306.40 343.40,301.30 347.80,296.20 351.90,300.10 356.10,304.20 360.40,308.10 365.10,310.60 369.40,304.20 373.70,301.80 377.90,297.00 382.50,300.40 387.30,300.40 391.00,301.60 395.40,296.20 399.50,300.10 403.40,302.50 408.00,301.80 412.70,313.20 417.50,317.10 421.60,317.10 425.50,308.90 429.70,309.80 434.80,313.20 438.60,313.20 442.50,310.30 446.70,311.00 451.00,305.50 455.50,303.30 460.30,308.90 464.50,303.50 469.10,307.60 473.00,306.70 477.30,303.80 481.50,293.70 485.80,290.60 490.50,293.30 494.60,291.10 499.40,295.70 503.60,292.30 508.20,299.10 512.50,294.00 516.70,288.60 521.10,293.70 524.90,291.10 529.10,294.00 533.70,301.60 538.10,296.20 542.30,302.50 546.90,297.90 551.20,293.30 555.80,288.20 559.70,289.40 563.90,288.90 568.50,303.50 572.40,303.00 577.20,297.40 581.20,299.30 585.50,296.20 589.70,303.50 594.10,298.40 598.70,303.50 603.00,300.40 607.20,300.80 611.80,301.80 615.70,301.50 620.30,305.90 624.40,303.60" fill="none" stroke="#9b30b0" stroke-width="1.3" stroke-linejoin="round"/></g>
<text x="6.45" y="274.6" font-family="'DejaVu Sans', sans-serif" font-size="7.6" fill="#131722" font-weight="normal" font-style="normal" text-anchor="start" textLength="44.85" lengthAdjust="spacingAndGlyphs" stroke="#131722" stroke-width="0.2">RSI 14 close</text>
<text x="57.7" y="274.6" font-family="'Liberation Sans', sans-serif" font-size="8.3" fill="#9b30b0" font-weight="normal" font-style="normal" text-anchor="start" textLength="21.20" lengthAdjust="spacingAndGlyphs" stroke="#9b30b0" stroke-width="0.2">48.00</text>
<rect x="0" y="344" width="716" height="41.7" fill="#e9c5d8"/>
<g stroke="#76736c" stroke-width="1" stroke-dasharray="2.93,2.93" stroke-dashoffset="-0.57"><line x1="0" y1="343.5" x2="716" y2="343.5"/><line x1="0" y1="386.5" x2="716" y2="386.5"/></g>
<g clip-path="url(#cs)"><polyline points="0.00,342.80 5.20,338.50 14.00,340.20 22.70,343.70 31.40,342.80 41.90,338.50 52.40,337.60 62.80,337.60 73.30,342.00 80.30,341.60 87.30,338.50 90.00,341.10 98.70,341.60 107.50,339.30 117.90,339.30 124.90,336.70 133.60,334.10 138.00,336.70 144.10,344.60 150.20,349.30 156.30,346.80 163.30,342.00 169.40,338.80 175.50,339.90 180.80,340.40 187.00,338.10 192.20,341.10 197.50,344.60 202.70,346.80 207.90,346.80 213.20,351.60 217.50,358.50 222.80,365.00 228.00,364.60 234.10,364.30 239.30,368.10 244.60,373.00 249.80,375.10 255.00,379.00 259.40,381.20 263.80,384.70 269.90,387.30 274.00,383.50 278.70,377.70 284.00,365.50 289.20,352.40 296.20,343.40 301.40,338.10 306.60,337.10 311.90,339.90 317.10,341.60 322.40,338.80 330.20,334.10 334.60,335.90 338.10,342.80 341.60,354.20 345.00,364.60 348.50,374.20 352.00,378.30 357.30,381.20 361.60,383.50 365.20,387.30 369.60,390.00 374.00,389.10 378.30,383.50 382.70,379.50 387.10,375.50 391.40,375.10 395.80,373.00 401.00,368.50 405.40,362.90 408.90,361.20 413.20,365.50 417.60,376.00 422.00,387.30 426.30,392.60 430.70,392.20 435.00,387.70 440.30,387.00 445.50,388.20 450.80,384.70 455.20,380.40 460.50,376.50 464.80,373.40 469.20,371.30 473.60,367.30 477.90,362.90 482.30,355.90 486.60,347.20 491.00,339.90 495.40,337.10 499.70,338.80 504.10,343.70 508.50,348.90 512.80,352.40 516.30,353.80 520.70,349.80 525.00,345.10 529.40,342.30 533.80,343.70 539.00,348.60 542.50,355.90 547.00,362.90 551.30,365.50 555.70,360.80 560.10,353.80 564.40,347.20 568.80,350.70 573.20,360.30 577.50,369.50 581.90,374.20 586.20,372.50 590.60,370.80 595.00,370.20 599.30,374.20 603.70,376.50 608.10,378.60 612.40,379.50 616.80,380.70 621.20,381.80 624.40,382.00" fill="none" stroke="#f5651f" stroke-width="1.1" stroke-linejoin="round"/><polyline points="0.00,341.00 3.50,336.70 10.50,337.60 17.50,343.70 22.70,345.50 31.40,341.10 38.40,336.70 45.40,338.50 52.40,335.90 59.30,336.40 66.30,337.60 71.60,341.10 75.90,345.50 82.00,338.50 87.30,336.40 94.20,335.00 98.70,342.80 107.50,338.50 116.20,338.50 122.30,336.70 127.50,333.60 131.90,333.60 136.20,336.70 140.60,345.50 145.00,350.30 148.50,350.30 153.70,345.50 159.80,341.10 165.90,337.60 170.30,340.20 175.50,341.60 179.90,340.20 183.50,336.40 187.90,338.50 191.30,344.60 196.60,345.50 200.90,348.40 205.30,344.60 209.70,348.90 214.00,357.70 218.70,367.60 222.80,367.30 226.80,361.20 231.50,363.40 235.80,369.00 241.10,372.50 244.60,376.50 248.90,375.50 253.30,383.00 256.80,383.00 261.20,387.30 265.50,387.30 269.00,386.50 272.50,380.40 274.40,378.60 278.70,369.90 283.10,355.00 287.50,349.80 291.80,343.40 296.20,339.30 300.00,335.30 304.90,337.10 309.30,341.10 313.30,343.70 317.10,340.20 321.50,335.90 325.80,333.60 330.20,333.20 334.60,338.50 338.10,350.70 341.60,368.10 344.20,378.60 347.70,383.50 352.00,379.00 357.30,382.10 361.60,388.20 365.20,392.60 369.60,389.10 374.00,385.60 378.30,377.70 382.70,374.80 387.10,373.70 391.40,376.50 395.80,369.00 400.10,362.90 404.50,358.90 408.90,362.00 413.20,373.70 417.60,386.50 421.40,398.20 425.40,392.60 429.80,387.30 434.20,385.20 438.50,389.10 442.90,388.70 447.30,385.60 451.60,380.40 455.20,376.00 460.50,373.70 464.80,370.20 469.20,370.80 473.60,363.80 477.90,358.50 482.30,346.30 486.60,338.50 491.00,335.30 495.00,337.10 499.70,343.40 503.80,346.80 508.50,355.00 512.00,355.00 516.70,350.30 520.70,345.10 525.00,340.20 529.40,342.80 533.80,348.10 538.10,353.80 540.00,359.10 542.30,366.00 547.00,366.70 551.30,365.00 555.70,350.70 559.20,345.50 563.60,345.50 567.90,358.50 572.30,369.90 577.00,377.70 581.50,373.00 585.70,367.30 589.70,372.50 594.50,371.60 598.50,378.30 602.80,377.20 607.20,380.00 611.60,379.50 615.90,381.20 620.30,383.50 624.40,382.30" fill="none" stroke="#2b8cf0" stroke-width="1.1" stroke-linejoin="round"/></g>
<rect x="3" y="335" width="105.5" height="12.7" fill="#fff2cc" opacity="0.5"/>
<text x="6.4" y="342.5" font-family="'DejaVu Sans', sans-serif" font-size="7.6" fill="#131722" font-weight="normal" font-style="normal" text-anchor="start" textLength="46.90" lengthAdjust="spacingAndGlyphs" stroke="#131722" stroke-width="0.2">Stoch 14 3 3</text>
<text x="59.2" y="342.5" font-family="'Liberation Sans', sans-serif" font-size="8.3" fill="#2b8cf0" font-weight="normal" font-style="normal" text-anchor="start" textLength="21.10" lengthAdjust="spacingAndGlyphs" stroke="#2b8cf0" stroke-width="0.2">24.85</text>
<text x="84.9" y="342.5" font-family="'Liberation Sans', sans-serif" font-size="8.3" fill="#ff6d1a" font-weight="normal" font-style="normal" text-anchor="start" textLength="21.40" lengthAdjust="spacingAndGlyphs" stroke="#ff6d1a" stroke-width="0.2">25.28</text>
<line x1="716.5" y1="0" x2="716.5" y2="424" stroke="#807e73" stroke-width="1"/>
<line x1="0" y1="261.5" x2="768" y2="261.5" stroke="#807e73" stroke-width="1"/>
<line x1="0" y1="328.5" x2="768" y2="328.5" stroke="#807e73" stroke-width="1"/>
<line x1="0" y1="402.5" x2="768" y2="402.5" stroke="#807e73" stroke-width="1"/>
<line x1="717" y1="15.25" x2="720" y2="15.25" stroke="#807e73" stroke-width="1"/>
<text x="724" y="18.25" font-family="'Liberation Sans', sans-serif" font-size="9.1" fill="#1e2026" font-weight="normal" font-style="normal" text-anchor="start" textLength="33.00" lengthAdjust="spacingAndGlyphs" stroke="#1e2026" stroke-width="0.25">0.80000</text>
<line x1="717" y1="40.90" x2="720" y2="40.90" stroke="#807e73" stroke-width="1"/>
<text x="724" y="43.9" font-family="'Liberation Sans', sans-serif" font-size="9.1" fill="#1e2026" font-weight="normal" font-style="normal" text-anchor="start" textLength="33.00" lengthAdjust="spacingAndGlyphs" stroke="#1e2026" stroke-width="0.25">0.79000</text>
<line x1="717" y1="66.55" x2="720" y2="66.55" stroke="#807e73" stroke-width="1"/>
<text x="724" y="69.55" font-family="'Liberation Sans', sans-serif" font-size="9.1" fill="#1e2026" font-weight="normal" font-style="normal" text-anchor="start" textLength="33.00" lengthAdjust="spacingAndGlyphs" stroke="#1e2026" stroke-width="0.25">0.78000</text>
<line x1="717" y1="92.20" x2="720" y2="92.20" stroke="#807e73" stroke-width="1"/>
<text x="724" y="95.2" font-family="'Liberation Sans', sans-serif" font-size="9.1" fill="#1e2026" font-weight="normal" font-style="normal" text-anchor="start" textLength="33.00" lengthAdjust="spacingAndGlyphs" stroke="#1e2026" stroke-width="0.25">0.77000</text>
<line x1="717" y1="117.85" x2="720" y2="117.85" stroke="#807e73" stroke-width="1"/>
<text x="724" y="120.85" font-family="'Liberation Sans', sans-serif" font-size="9.1" fill="#1e2026" font-weight="normal" font-style="normal" text-anchor="start" textLength="33.00" lengthAdjust="spacingAndGlyphs" stroke="#1e2026" stroke-width="0.25">0.76000</text>
<line x1="717" y1="143.50" x2="720" y2="143.50" stroke="#807e73" stroke-width="1"/>
<text x="724" y="146.5" font-family="'Liberation Sans', sans-serif" font-size="9.1" fill="#1e2026" font-weight="normal" font-style="normal" text-anchor="start" textLength="33.00" lengthAdjust="spacingAndGlyphs" stroke="#1e2026" stroke-width="0.25">0.75000</text>
<line x1="717" y1="169.15" x2="720" y2="169.15" stroke="#807e73" stroke-width="1"/>
<text x="724" y="172.15" font-family="'Liberation Sans', sans-serif" font-size="9.1" fill="#1e2026" font-weight="normal" font-style="normal" text-anchor="start" textLength="33.00" lengthAdjust="spacingAndGlyphs" stroke="#1e2026" stroke-width="0.25">0.74000</text>
<line x1="717" y1="194.80" x2="720" y2="194.80" stroke="#807e73" stroke-width="1"/>
<text x="724" y="197.8" font-family="'Liberation Sans', sans-serif" font-size="9.1" fill="#1e2026" font-weight="normal" font-style="normal" text-anchor="start" textLength="33.00" lengthAdjust="spacingAndGlyphs" stroke="#1e2026" stroke-width="0.25">0.73000</text>
<line x1="717" y1="220.45" x2="720" y2="220.45" stroke="#807e73" stroke-width="1"/>
<text x="724" y="223.45" font-family="'Liberation Sans', sans-serif" font-size="9.1" fill="#1e2026" font-weight="normal" font-style="normal" text-anchor="start" textLength="33.00" lengthAdjust="spacingAndGlyphs" stroke="#1e2026" stroke-width="0.25">0.72000</text>
<line x1="717" y1="246.10" x2="720" y2="246.10" stroke="#807e73" stroke-width="1"/>
<text x="724" y="249.1" font-family="'Liberation Sans', sans-serif" font-size="9.1" fill="#1e2026" font-weight="normal" font-style="normal" text-anchor="start" textLength="33.00" lengthAdjust="spacingAndGlyphs" stroke="#1e2026" stroke-width="0.25">0.71000</text>
<line x1="717" y1="265.6" x2="720" y2="265.6" stroke="#807e73" stroke-width="1"/>
<text x="724" y="268.2" font-family="'Liberation Sans', sans-serif" font-size="8.6" fill="#1e2026" font-weight="normal" font-style="normal" text-anchor="start" textLength="22.80" lengthAdjust="spacingAndGlyphs" stroke="#1e2026" stroke-width="0.25">80.00</text>
<line x1="717" y1="289.4" x2="720" y2="289.4" stroke="#807e73" stroke-width="1"/>
<text x="724" y="292.0" font-family="'Liberation Sans', sans-serif" font-size="8.6" fill="#1e2026" font-weight="normal" font-style="normal" text-anchor="start" textLength="22.80" lengthAdjust="spacingAndGlyphs" stroke="#1e2026" stroke-width="0.25">60.00</text>
<line x1="717" y1="313.2" x2="720" y2="313.2" stroke="#807e73" stroke-width="1"/>
<text x="724" y="315.8" font-family="'Liberation Sans', sans-serif" font-size="8.6" fill="#1e2026" font-weight="normal" font-style="normal" text-anchor="start" textLength="22.80" lengthAdjust="spacingAndGlyphs" stroke="#1e2026" stroke-width="0.25">40.00</text>
<line x1="717" y1="344.2" x2="720" y2="344.2" stroke="#807e73" stroke-width="1"/>
<text x="724" y="346.8" font-family="'Liberation Sans', sans-serif" font-size="8.6" fill="#1e2026" font-weight="normal" font-style="normal" text-anchor="start" textLength="22.80" lengthAdjust="spacingAndGlyphs" stroke="#1e2026" stroke-width="0.25">80.00</text>
<line x1="717" y1="371.6" x2="720" y2="371.6" stroke="#807e73" stroke-width="1"/>
<text x="724" y="374.2" font-family="'Liberation Sans', sans-serif" font-size="8.6" fill="#1e2026" font-weight="normal" font-style="normal" text-anchor="start" textLength="22.80" lengthAdjust="spacingAndGlyphs" stroke="#1e2026" stroke-width="0.25">40.00</text>
<line x1="717" y1="400.3" x2="720" y2="400.3" stroke="#807e73" stroke-width="1"/>
<text x="724" y="402.9" font-family="'Liberation Sans', sans-serif" font-size="8.6" fill="#1e2026" font-weight="normal" font-style="normal" text-anchor="start" textLength="17.60" lengthAdjust="spacingAndGlyphs" stroke="#1e2026" stroke-width="0.25">0.00</text>
<rect x="717" y="79" width="45" height="12.5" fill="#2a6f1f"/>
<text x="724" y="88.6" font-family="'Liberation Sans', sans-serif" font-size="9.3" fill="#ffffff" font-weight="normal" font-style="normal" text-anchor="start" textLength="33.50" lengthAdjust="spacingAndGlyphs" stroke="#ffffff" stroke-width="0.3">0.77274</text>
<line x1="75.6" y1="403" x2="75.6" y2="406" stroke="#807e73" stroke-width="1"/>
<text x="68.1" y="416.4" font-family="'Liberation Sans', sans-serif" font-size="9.9" fill="#131722" font-weight="normal" font-style="normal" text-anchor="start" textLength="15.00" lengthAdjust="spacingAndGlyphs" stroke="#131722" stroke-width="0.3">Dec</text>
<line x1="170.4" y1="403" x2="170.4" y2="406" stroke="#807e73" stroke-width="1"/>
<text x="159.9" y="416.4" font-family="'Liberation Sans', sans-serif" font-size="9.9" fill="#131722" font-weight="bold" font-style="normal" text-anchor="start" textLength="21.00" lengthAdjust="spacingAndGlyphs">2021</text>
<line x1="256.5" y1="403" x2="256.5" y2="406" stroke="#807e73" stroke-width="1"/>
<text x="249.0" y="416.4" font-family="'Liberation Sans', sans-serif" font-size="9.9" fill="#131722" font-weight="normal" font-style="normal" text-anchor="start" textLength="15.00" lengthAdjust="spacingAndGlyphs" stroke="#131722" stroke-width="0.3">Feb</text>
<line x1="343.5" y1="403" x2="343.5" y2="406" stroke="#807e73" stroke-width="1"/>
<text x="335.95" y="416.4" font-family="'Liberation Sans', sans-serif" font-size="9.9" fill="#131722" font-weight="normal" font-style="normal" text-anchor="start" textLength="15.10" lengthAdjust="spacingAndGlyphs" stroke="#131722" stroke-width="0.3">Mar</text>
<line x1="443.1" y1="403" x2="443.1" y2="406" stroke="#807e73" stroke-width="1"/>
<text x="436.05" y="416.4" font-family="'Liberation Sans', sans-serif" font-size="9.9" fill="#131722" font-weight="normal" font-style="normal" text-anchor="start" textLength="14.10" lengthAdjust="spacingAndGlyphs" stroke="#131722" stroke-width="0.3">Apr</text>
<line x1="537.9" y1="403" x2="537.9" y2="406" stroke="#807e73" stroke-width="1"/>
<text x="529.95" y="416.4" font-family="'Liberation Sans', sans-serif" font-size="9.9" fill="#131722" font-weight="normal" font-style="normal" text-anchor="start" textLength="15.90" lengthAdjust="spacingAndGlyphs" stroke="#131722" stroke-width="0.3">May</text>
<line x1="628.4" y1="403" x2="628.4" y2="406" stroke="#807e73" stroke-width="1"/>
<text x="621.2" y="416.4" font-family="'Liberation Sans', sans-serif" font-size="9.9" fill="#131722" font-weight="normal" font-style="normal" text-anchor="start" textLength="14.40" lengthAdjust="spacingAndGlyphs" stroke="#131722" stroke-width="0.3">Jun</text>
<g stroke="#2a2e39" stroke-width="1" fill="none"><circle cx="743.2" cy="413.2" r="3.1"/><line x1="746.40" y1="413.20" x2="747.80" y2="413.20"/><line x1="745.46" y1="415.46" x2="746.45" y2="416.45"/><line x1="743.20" y1="416.40" x2="743.20" y2="417.80"/><line x1="740.94" y1="415.46" x2="739.95" y2="416.45"/><line x1="740.00" y1="413.20" x2="738.60" y2="413.20"/><line x1="740.94" y1="410.94" x2="739.95" y2="409.95"/><line x1="743.20" y1="410.00" x2="743.20" y2="408.60"/><line x1="745.46" y1="410.94" x2="746.45" y2="409.95"/></g>
<text x="604.5" y="31.5" font-family="'DejaVu Sans', sans-serif" font-size="9.2" fill="#17171f" font-weight="normal" font-style="italic" text-anchor="start" textLength="69.60" lengthAdjust="spacingAndGlyphs" stroke="#17171f" stroke-width="0.35">Upside capped</text>
<text x="604.5" y="42.5" font-family="'DejaVu Sans', sans-serif" font-size="9.2" fill="#17171f" font-weight="normal" font-style="italic" text-anchor="start" textLength="62.75" lengthAdjust="spacingAndGlyphs" stroke="#17171f" stroke-width="0.35">below 5-DMA</text>
<text x="505.5" y="140.7" font-family="'DejaVu Sans', sans-serif" font-size="9.5" fill="#17171f" font-weight="normal" font-style="italic" text-anchor="start" textLength="105.80" lengthAdjust="spacingAndGlyphs" stroke="#17171f" stroke-width="0.35">Holds 50-DMA support</text>
<text x="630.25" y="305.6" font-family="'DejaVu Sans', sans-serif" font-size="10.2" fill="#17171f" font-weight="normal" font-style="italic" text-anchor="start" textLength="35.00" lengthAdjust="spacingAndGlyphs" stroke="#17171f" stroke-width="0.35">RSI flat</text>
<text x="617.75" y="366.9" font-family="'DejaVu Sans', sans-serif" font-size="9.4" fill="#1f1834" font-weight="normal" font-style="italic" text-anchor="start" textLength="70.40" lengthAdjust="spacingAndGlyphs" stroke="#1f1834" stroke-width="0.35">Stochs support</text>
<text x="617.75" y="377.5" font-family="'DejaVu Sans', sans-serif" font-size="9.4" fill="#1f1834" font-weight="normal" font-style="italic" text-anchor="start" textLength="44.10" lengthAdjust="spacingAndGlyphs" stroke="#1f1834" stroke-width="0.35">weakness</text>
</svg>
</body></html>
